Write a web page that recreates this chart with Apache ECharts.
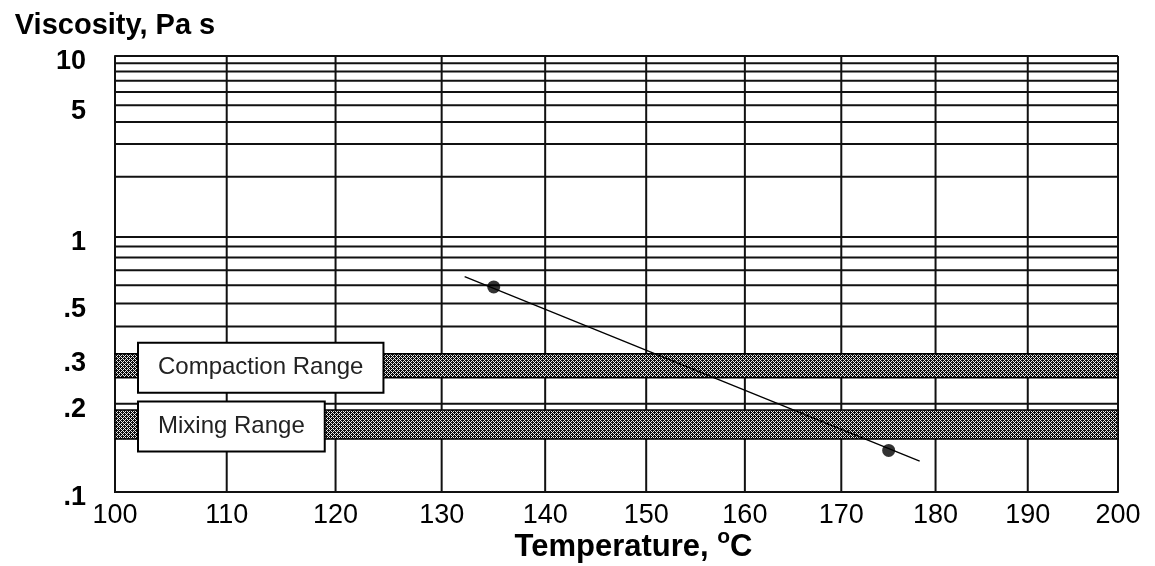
<!DOCTYPE html>
<html>
<head>
<meta charset="utf-8">
<script src="https://cdn.jsdelivr.net/npm/echarts@6/dist/echarts.min.js"></script>
<style>
  html, body { margin: 0; padding: 0; background: #fff; }
  #chart { width: 1155px; height: 566px; }
</style>
</head>
<body>
<div id="chart"></div>
<script>
// Temperature gridlines / tick labels (°C)
const tempTicks = [100, 110, 120, 130, 140, 150, 160, 170, 180, 190, 200];
// Viscosity gridlines (Pa s)
const viscGrid = [10, 9, 8, 7, 6, 5, 4, 3, 2, 1, 0.9, 0.8, 0.7, 0.6, 0.5, 0.4, 0.3, 0.2, 0.1];
// Viscosity tick labels
const viscLabels = [10, 5, 1, 0.5, 0.3, 0.2, 0.1];
const viscLabelText = ['10', '5', '1', '.5', '.3', '.2', '.1'];
// Target viscosity ranges (Pa s)
const rangeNames = ['Compaction Range', 'Mixing Range'];
const rangeUpper = [0.31, 0.19];
const rangeLower = [0.25, 0.15];
// Measured viscosities
const measuredTemp = [135, 175];
const measuredVisc = [0.59, 0.137];
// Ends of the fitted temperature-viscosity line
const fitTemp = [132.2, 178.3];
const fitVisc = [0.655, 0.126];

// Chart scales: log of absolute temperature, log-log of viscosity in mPa s
const tx = t => Math.log10(t + 273.15);
const ty = v => Math.log10(Math.log10(v * 1000));
const xMin = tx(100), xMax = tx(200);
const yMin = ty(0.1), yMax = ty(10);

const FONT = '"Liberation Sans", Arial, Helvetica, sans-serif';

// Cross-hatch fill for the range bands
const pc = document.createElement('canvas');
pc.width = 4; pc.height = 4;
const pg = pc.getContext('2d');
pg.fillStyle = '#0c0c0c';
pg.fillRect(0, 0, 4, 4);
pg.fillStyle = '#e8e8e8';
for (let y = 0; y < 4; y++) {
  for (let x = 0; x < 4; x++) {
    if ((x + y) % 4 === 0 || ((x - y) % 4 + 4) % 4 === 0) pg.fillRect(x, y, 1, 1);
  }
}
const hatch = { image: pc, repeat: 'repeat' };

const chart = echarts.init(document.getElementById('chart'), null, { renderer: 'canvas' });

const option = {
  animation: false,
  backgroundColor: '#fff',
  grid: { left: 115, right: 37, top: 56, bottom: 74, containLabel: false, outerBoundsMode: 'none' },
  xAxis: {
    type: 'value',
    min: xMin,
    max: xMax,
    axisLine: { show: true, lineStyle: { color: '#000', width: 2 } },
    axisTick: { show: false },
    splitLine: { show: false },
    axisLabel: {
      customValues: tempTicks.map(tx),
      formatter: v => String(Math.round(Math.pow(10, v) - 273.15)),
      fontSize: 27,
      fontFamily: FONT,
      color: '#000',
      margin: 10
    },
    name: 'Temperature, {sup|o}C',
    nameLocation: 'middle',
    nameGap: 35,
    nameMoveOverlap: false,
    nameTextStyle: {
      fontSize: 31,
      fontWeight: 'bold',
      fontFamily: FONT,
      color: '#000',
      lineHeight: 40,
      padding: [0, 0, 0, 34],
      rich: {
        sup: { fontSize: 21, lineHeight: 21, fontWeight: 'bold', fontFamily: FONT, color: '#000', verticalAlign: 'top' }
      }
    }
  },
  yAxis: {
    type: 'value',
    min: yMin,
    max: yMax,
    axisLine: { show: true, lineStyle: { color: '#000', width: 2 } },
    axisTick: { show: false },
    splitLine: { show: false },
    axisLabel: {
      customValues: viscLabels.map(ty),
      formatter: v => {
        let best = 0, bd = Infinity;
        viscLabels.forEach((l, i) => {
          const d = Math.abs(ty(l) - v);
          if (d < bd) { bd = d; best = i; }
        });
        return '{t|' + viscLabelText[best] + '}';
      },
      color: '#000',
      margin: 29,
      rich: {
        t: { fontSize: 27, fontWeight: 'bold', fontFamily: FONT, color: '#000', padding: [12, 0, 0, 0] }
      }
    },
    name: 'Viscosity, Pa s',
    nameLocation: 'end',
    nameGap: 16,
    nameMoveOverlap: false,
    nameTextStyle: {
      fontSize: 29,
      fontWeight: 'bold',
      fontFamily: FONT,
      color: '#000',
      align: 'center',
      verticalAlign: 'bottom'
    }
  },
  series: [
    {
      // vertical temperature gridlines
      type: 'custom',
      z: 1,
      silent: true,
      data: tempTicks.map(t => [tx(t), yMin]),
      renderItem: (params, api) => {
        const x = api.value(0);
        const p1 = api.coord([x, yMin]);
        const p2 = api.coord([x, yMax]);
        return { type: 'line', shape: { x1: p1[0], y1: p1[1], x2: p2[0], y2: p2[1] },
                 style: { stroke: '#111', lineWidth: 2 } };
      }
    },
    {
      // horizontal viscosity gridlines
      type: 'custom',
      z: 1,
      silent: true,
      data: viscGrid.map(v => [xMin, ty(v)]),
      renderItem: (params, api) => {
        const y = api.value(1);
        const p1 = api.coord([xMin, y]);
        const p2 = api.coord([xMax, y]);
        return { type: 'line', shape: { x1: p1[0], y1: p1[1], x2: p2[0], y2: p2[1] },
                 style: { stroke: '#111', lineWidth: 2 } };
      }
    },
    {
      // compaction and mixing range bands
      type: 'custom',
      z: 2,
      silent: true,
      data: rangeUpper.map((u, i) => [xMin, ty(u), ty(rangeLower[i]), i]),
      renderItem: (params, api) => {
        const pTop = api.coord([xMin, api.value(1)]);
        const pBot = api.coord([xMax, api.value(2)]);
        const name = rangeNames[api.value(3)];
        const top = pTop[1], bot = pBot[1];
        return {
          type: 'group',
          children: [
            {
              type: 'rect',
              shape: { x: pTop[0], y: top, width: pBot[0] - pTop[0], height: bot - top },
              style: { fill: hatch, stroke: '#000', lineWidth: 1.5 }
            },
            {
              type: 'text',
              z2: 10,
              x: pTop[0] + 24,
              y: (top + bot) / 2 + 2,
              style: {
                text: name,
                fontSize: 24,
                fontFamily: FONT,
                fill: '#222',
                align: 'left',
                verticalAlign: 'middle',
                lineHeight: 24,
                backgroundColor: '#fff',
                borderColor: '#000',
                borderWidth: 2,
                padding: [12, 19, 12, 19]
              }
            }
          ]
        };
      }
    },
    {
      // fitted line
      type: 'line',
      z: 3,
      silent: true,
      showSymbol: false,
      data: fitTemp.map((t, i) => [tx(t), ty(fitVisc[i])]),
      lineStyle: { color: '#000', width: 1.3 }
    },
    {
      // measured points
      type: 'scatter',
      z: 4,
      silent: true,
      symbol: 'circle',
      symbolSize: 13,
      itemStyle: { color: '#000' },
      data: measuredTemp.map((t, i) => [tx(t), ty(measuredVisc[i])])
    }
  ]
};

chart.setOption(option);
</script>
</body>
</html>
